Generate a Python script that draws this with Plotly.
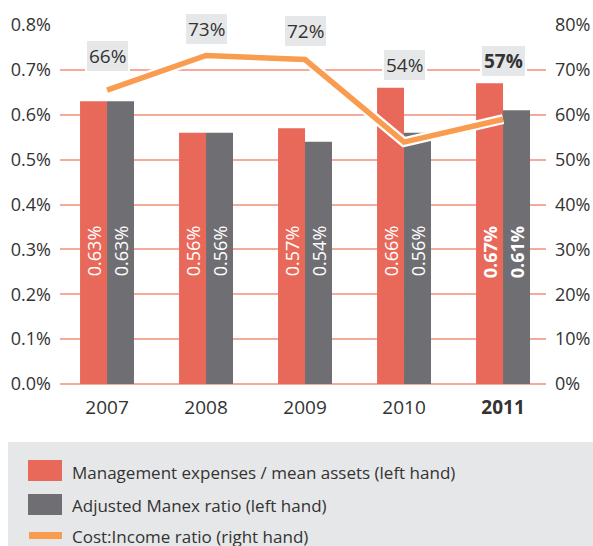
import plotly.graph_objects as go

years = ["2007", "2008", "2009", "2010", "2011"]
year_labels = ["2007", "2008", "2009", "2010", "<b>2011</b>"]
manex = [0.63, 0.56, 0.57, 0.66, 0.67]
adjusted = [0.63, 0.56, 0.54, 0.56, 0.61]
cost_income = [65.5, 73.2, 72.3, 53.9, 59.0]
cost_income_labels = ["66%", "73%", "72%", "54%", "<b>57%</b>"]
manex_labels = ["0.63%", "0.56%", "0.57%", "0.66%", "<b>0.67%</b>"]
adjusted_labels = ["0.63%", "0.56%", "0.54%", "0.56%", "<b>0.61%</b>"]
series_names = ["Management expenses / mean assets (left hand)",
                "Adjusted Manex ratio (left hand)",
                "Cost:Income ratio (right hand)"]
left_ticks = [0, 0.1, 0.2, 0.3, 0.4, 0.5, 0.6, 0.7, 0.8]
right_ticks = [0, 10, 20, 30, 40, 50, 60, 70, 80]

RED = "#e8695a"
GRAY = "#6f6e73"
ORANGE = "#f99c4f"
GRID = "#f5aa9b"
TXT = "#333333"
BOX = "#e6e7e8"
FONT = "Open Sans"

W, H = 593, 546
# plot area in window pixels
L, R, T, B = 60, 546, 25, 384

def px(x):
    return (x - L) / (R - L)

def py(y):
    return (B - y) / (B - T)

fig = go.Figure()
fig.add_trace(go.Bar(x=years, y=manex, marker=dict(color=RED, line=dict(width=0)),
                     name=series_names[0], hoverinfo="y"))
fig.add_trace(go.Bar(x=years, y=adjusted, marker=dict(color=GRAY, line=dict(width=0)),
                     name=series_names[1], hoverinfo="y"))
fig.add_trace(go.Scatter(x=years, y=cost_income, yaxis="y2", mode="lines",
                         line=dict(color="white", width=10), hoverinfo="skip",
                         showlegend=False))
fig.add_trace(go.Scatter(x=years, y=cost_income, yaxis="y2", mode="lines",
                         line=dict(color=ORANGE, width=5.5), name=series_names[2]))

annotations = []
# rotated value labels inside bars (x given as category index)
for i in range(len(years)):
    for lab, shift in ((manex_labels[i], -13.5), (adjusted_labels[i], 13.5)):
        annotations.append(dict(x=i, y=0.355, xref="x", yref="y", text=lab,
                                textangle=-90, showarrow=False, xshift=shift,
                                yanchor="top", xanchor="center",
                                font=dict(family=FONT, size=18, color="white")))
# cost:income labels
label_pos = [73.1, 79.1, 78.7, 71.1, 72.0]
for i in range(len(years)):
    annotations.append(dict(x=i, y=label_pos[i], xref="x", yref="y2",
                            text=cost_income_labels[i], showarrow=False,
                            bgcolor=BOX, bordercolor="white", borderwidth=2,
                            borderpad=2, yanchor="middle",
                            font=dict(family=FONT, size=19, color=TXT)))

shapes = []
# legend box
shapes.append(dict(type="rect", xref="paper", yref="paper", x0=px(8), x1=px(600),
                   y0=py(560), y1=py(442), fillcolor=BOX, line=dict(width=0),
                   layer="below"))
shapes.append(dict(type="rect", xref="paper", yref="paper", x0=px(28), x1=px(62),
                   y0=py(481), y1=py(460), fillcolor=RED, line=dict(width=0)))
shapes.append(dict(type="rect", xref="paper", yref="paper", x0=px(28), x1=px(62),
                   y0=py(515), y1=py(494), fillcolor=GRAY, line=dict(width=0)))
shapes.append(dict(type="rect", xref="paper", yref="paper", x0=px(29), x1=px(62),
                   y0=py(539), y1=py(532), fillcolor=ORANGE, line=dict(width=0)))
for name, yc in zip(series_names, [472, 505, 536]):
    annotations.append(dict(x=px(70), y=py(yc), xref="paper", yref="paper",
                            text=name, showarrow=False, xanchor="left",
                            yanchor="middle",
                            font=dict(family=FONT, size=17, color=TXT)))

fig.update_layout(
    width=W, height=H,
    margin=dict(l=L, r=W - R, t=T, b=H - B, autoexpand=False),
    paper_bgcolor="white", plot_bgcolor="white",
    barmode="group", bargap=0.455, bargroupgap=0,
    showlegend=False,
    font=dict(family=FONT, size=18, color=TXT),
    xaxis=dict(tickvals=years, ticktext=year_labels, range=[-0.475, 4.434],
               showgrid=False, showline=False, ticks="", zeroline=False,
               automargin=False,
               tickfont=dict(family=FONT, size=19, color=TXT), ticklabelstandoff=10),
    yaxis=dict(range=[0, 0.8], tickvals=left_ticks,
               ticktext=[f"{v:.1f}%" for v in left_ticks], automargin=False,
               showgrid=True, gridcolor=GRID, gridwidth=2, zeroline=True,
               zerolinecolor=GRID, zerolinewidth=2, showline=False, ticks="",
               tickfont=dict(family=FONT, size=18, color=TXT), ticklabelstandoff=8),
    yaxis2=dict(range=[0, 80], tickvals=right_ticks, automargin=False,
                ticktext=[f"{v}%" for v in right_ticks], overlaying="y",
                side="right", showgrid=False, zeroline=False, showline=False,
                ticks="", tickfont=dict(family=FONT, size=18, color=TXT),
                ticklabelstandoff=8),
    annotations=annotations, shapes=shapes,
)

fig.write_html("out.html", config={"displayModeBar": False},
               post_script="document.body.style.margin='0';"
                           "document.body.style.overflow='hidden';")
